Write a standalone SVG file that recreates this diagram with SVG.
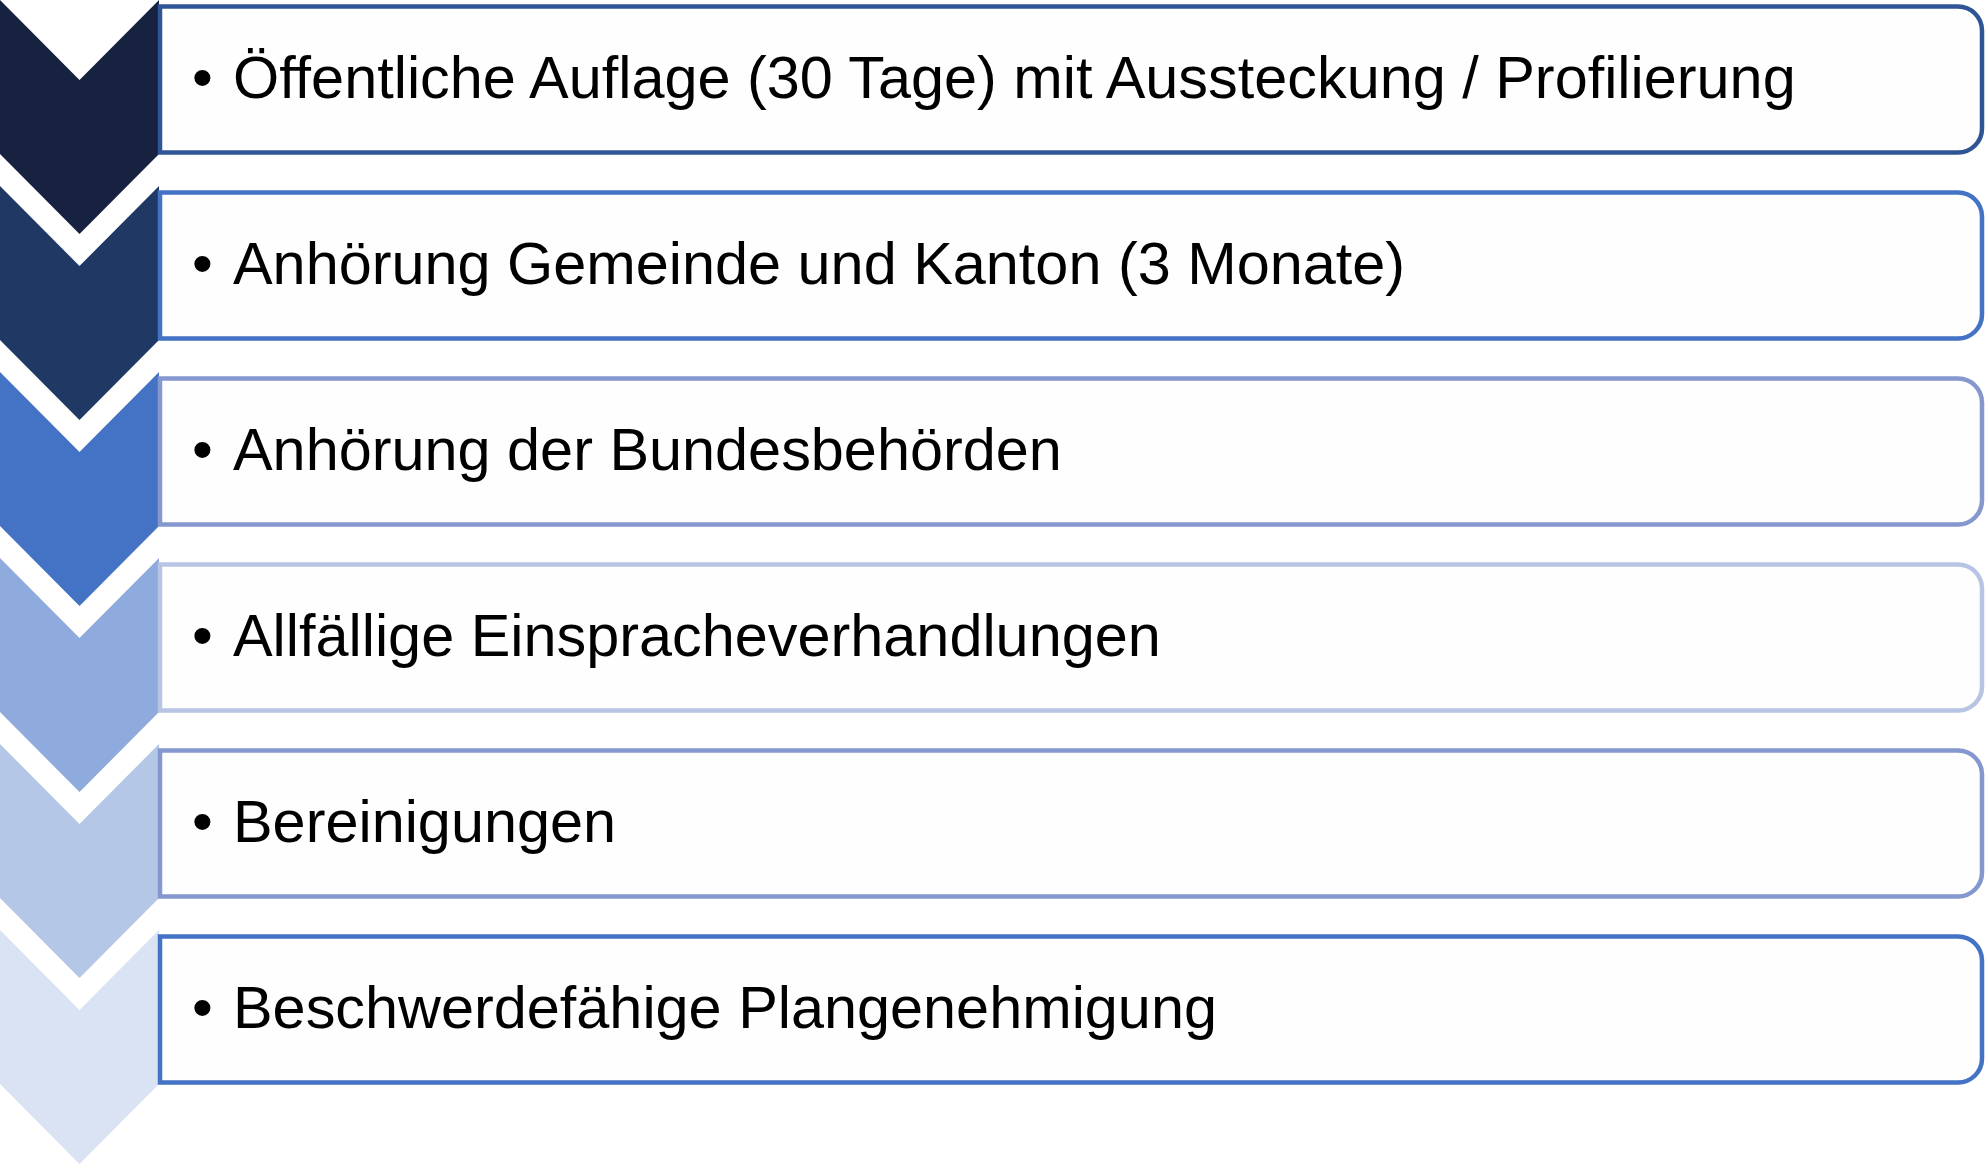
<svg xmlns="http://www.w3.org/2000/svg" width="1985" height="1166" viewBox="0 0 1985 1166">
<style>
.box{fill:#FEFEFE;stroke-width:4.5}
.t{font-family:"Liberation Sans",Arial,sans-serif;font-size:59.4px;fill:#000}
</style>
<rect width="1985" height="1166" fill="#FFFFFF"/>
<g id="chevrons">
<polygon fill="#16223F" points="0,0 79.5,80 159,0 159,154 79.5,234 0,154"/>
<polygon fill="#203864" points="0,186 79.5,266 159,186 159,340 79.5,420 0,340"/>
<polygon fill="#4472C4" points="0,372 79.5,452 159,372 159,526 79.5,606 0,526"/>
<polygon fill="#8FAADC" points="0,558 79.5,638 159,558 159,712 79.5,792 0,712"/>
<polygon fill="#B4C7E7" points="0,744 79.5,824 159,744 159,898 79.5,978 0,898"/>
<polygon fill="#DAE3F3" points="0,930 79.5,1010 159,930 159,1084 79.5,1164 0,1084"/>
</g>
<g id="step1">
<path class="box" stroke="#2F5597" d="M160,6.5 H1958 A24,24 0 0 1 1982,30.5 V128.5 A24,24 0 0 1 1958,152.5 H160 Z"/>
<text class="t" y="97.5"><tspan x="192">•</tspan><tspan x="233">Öffentliche Auflage (30 Tage) mit Aussteckung / Profilierung</tspan></text>
</g>
<g id="step2">
<path class="box" stroke="#4472C4" d="M160,192.5 H1958 A24,24 0 0 1 1982,216.5 V314.5 A24,24 0 0 1 1958,338.5 H160 Z"/>
<text class="t" y="283.5"><tspan x="192">•</tspan><tspan x="233">Anhörung Gemeinde und Kanton (3 Monate)</tspan></text>
</g>
<g id="step3">
<path class="box" stroke="#8497CF" d="M160,378.5 H1958 A24,24 0 0 1 1982,402.5 V500.5 A24,24 0 0 1 1958,524.5 H160 Z"/>
<text class="t" y="469.5"><tspan x="192">•</tspan><tspan x="233">Anhörung der Bundesbehörden</tspan></text>
</g>
<g id="step4">
<path class="box" stroke="#B8C4E4" d="M160,564.5 H1958 A24,24 0 0 1 1982,588.5 V686.5 A24,24 0 0 1 1958,710.5 H160 Z"/>
<text class="t" y="655.5"><tspan x="192">•</tspan><tspan x="233">Allfällige Einspracheverhandlungen</tspan></text>
</g>
<g id="step5">
<path class="box" stroke="#8497CF" d="M160,750.5 H1958 A24,24 0 0 1 1982,774.5 V872.5 A24,24 0 0 1 1958,896.5 H160 Z"/>
<text class="t" y="841.5"><tspan x="192">•</tspan><tspan x="233">Bereinigungen</tspan></text>
</g>
<g id="step6">
<path class="box" stroke="#4472C4" d="M160,936.5 H1958 A24,24 0 0 1 1982,960.5 V1058.5 A24,24 0 0 1 1958,1082.5 H160 Z"/>
<text class="t" y="1027.5"><tspan x="192">•</tspan><tspan x="233">Beschwerdefähige Plangenehmigung</tspan></text>
</g>
<g id="connectors"/>
</svg>
